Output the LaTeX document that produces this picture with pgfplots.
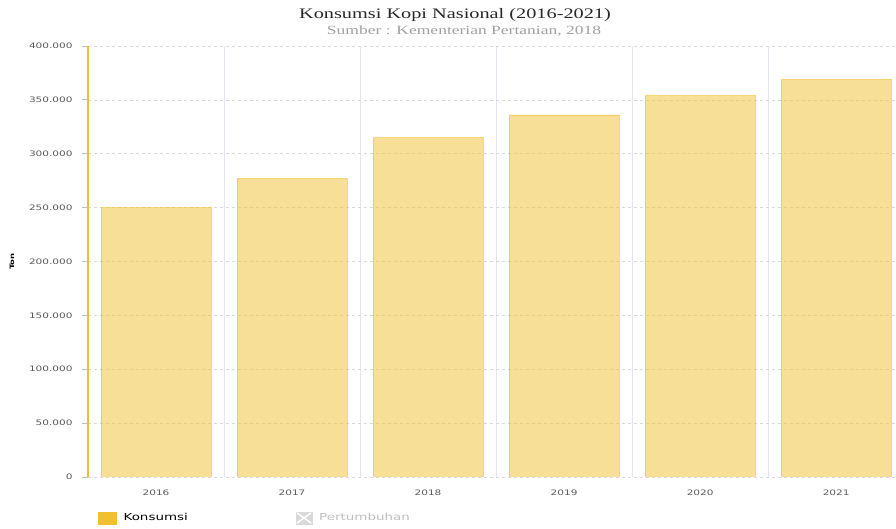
\documentclass[border=0pt]{standalone}
\usepackage{fontspec}
\setmainfont{Liberation Serif}[FakeStretch=1.4]
\newfontfamily\tickfont{DejaVu Sans}[FakeStretch=1.4]
\usepackage{pgfplots}
\pgfplotsset{compat=1.18}
\definecolor{kgold}{RGB}{240,192,48}
\definecolor{vgrid}{RGB}{228,228,240}
\definecolor{titlec}{RGB}{40,40,40}
\definecolor{subc}{RGB}{160,160,160}
\begin{document}
\begin{tikzpicture}
\useasboundingbox (-88pt,-52pt) rectangle (808pt,477pt);
\begin{axis}[
 scale only axis, width=808pt, height=431pt,
 xmin=-0.5, xmax=5.44, ymin=0, ymax=400000,
 axis x line*=bottom, axis y line*=left,
 x axis line style={draw=none},
 y axis line style={draw=kgold, line width=2.5pt, -},
 xtick={0,1,2,3,4,5}, xticklabels={2016,2017,2018,2019,2020,2021},
 xtick style={draw=none},
 minor xtick={0.5,1.5,2.5,3.5,4.5},
 minor tick length=0pt,
 xminorgrids, minor grid style={vgrid, line width=1pt},
 ytick={0,50000,100000,150000,200000,250000,300000,350000,400000},
 yticklabels={0,50.000,100.000,150.000,200.000,250.000,300.000,350.000,400.000},
 scaled y ticks=false,
 ymajorgrids, major grid style={gray!30, dashed, line width=0.6pt},
 ytick style={gray!50, line width=0.8pt},
 tick align=outside, major tick length=6pt,
 ticklabel style={font=\tickfont\fontsize{7.5}{8}\selectfont, text=black!65},
 yticklabel style={xshift=-6pt},
 xticklabel style={yshift=-3pt},
 ylabel={Ton},
 ylabel style={font=\tickfont\bfseries\fontsize{6}{7}\selectfont, at={(axis description cs:-0.094,0.5)}, anchor=center},
 legend columns=2,
 legend style={at={(axis description cs:0,-0.095)}, anchor=west, xshift=10pt, draw=none, fill=none, inner sep=0pt,
   font=\tickfont\fontsize{9.6}{10}\selectfont,
   /tikz/every odd column/.append style={column sep=5pt},
   /tikz/every even column/.append style={column sep=106pt}},
]
\addplot[ybar, bar width=110pt, fill=kgold, fill opacity=0.5, draw=kgold, draw opacity=0.6, line width=0.8pt, forget plot]
 coordinates {(0,250000) (1,277000) (2,315000) (3,336000) (4,354000) (5,369000)};
\addlegendimage{legend image code/.code={\fill[kgold] (0pt,-6pt) rectangle (18pt,6pt);}}
\addlegendentry{Konsumsi}
\addlegendimage{legend image code/.code={\fill[gray!30] (0pt,-6pt) rectangle (16pt,6pt); \draw[white, line width=1.5pt] (1pt,-5pt) -- (15pt,5pt) (1pt,5pt) -- (15pt,-5pt);}}
\addlegendentry{\textcolor{gray!50}{Pertumbuhan}}
\end{axis}
\node[font=\fontsize{14.5}{16}\selectfont, text=titlec] at (367pt,462pt) {Konsumsi Kopi Nasional (2016-2021)};
\node[font=\fontsize{12.5}{14}\selectfont, text=subc] at (376pt,446pt) {Sumber : Kementerian Pertanian, 2018};
\end{tikzpicture}
\end{document}
